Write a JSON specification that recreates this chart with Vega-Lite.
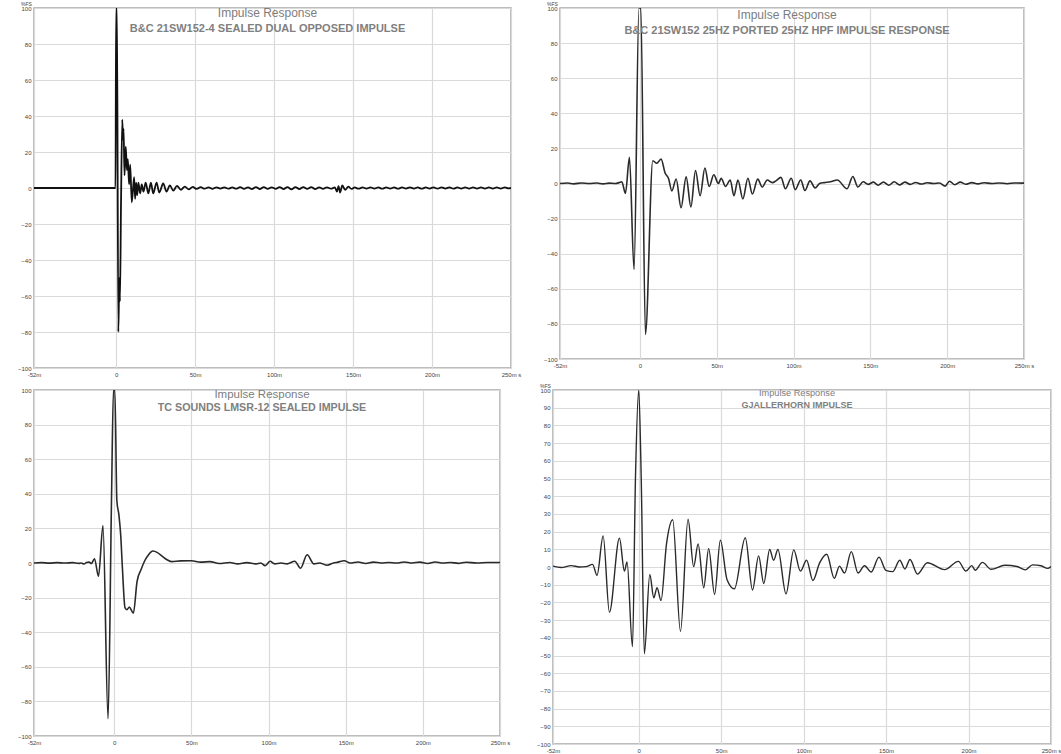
{
  "$schema": "https://vega.github.io/schema/vega-lite/v6.json",
  "padding": {"left": 0, "top": 0, "right": 0, "bottom": 0},
  "background": "white",
  "spacing": 4,
  "config": {
    "font": "Liberation Sans",
    "view": {"stroke": "#a8a8a8", "strokeWidth": 1.5},
    "axis": {"labelFontSize": 6, "labelColor": "#444", "labelFont": "Liberation Sans", "gridColor": "#dadada", "gridWidth": 1.2, "domain": false, "ticks": false, "labelPadding": 3, "labelOverlap": false},
    "axisX": {"labelFlush": false},
    "title": {"font": "Liberation Sans", "color": "#7d7d7d", "subtitleColor": "#808080", "fontWeight": "normal", "subtitleFontWeight": "bold", "subtitleFont": "Liberation Sans", "anchor": "middle", "frame": "group", "subtitlePadding": 0, "dx": -5}
  },
  "datasets": {
    "p1": [
      {"t": -52, "v": 0}, {"t": -30, "v": 0}, {"t": -10, "v": 0}, {"t": -0.4, "v": 0}, {"t": 0, "v": 100}, {"t": 0.5, "v": 100},
      {"t": 1.4, "v": -80}, {"t": 2, "v": -50}, {"t": 2.4, "v": -63}, {"t": 3.1, "v": -8}, {"t": 3.9, "v": 38}, {"t": 4.3, "v": 27},
      {"t": 4.7, "v": 33}, {"t": 5.3, "v": 7}, {"t": 6.1, "v": 23}, {"t": 6.8, "v": 10}, {"t": 7.4, "v": 16}, {"t": 8.2, "v": 2},
      {"t": 8.9, "v": 13}, {"t": 9.9, "v": -8}, {"t": 11.4, "v": 6}, {"t": 12, "v": -6}, {"t": 12.7, "v": 3}, {"t": 13.3, "v": -4},
      {"t": 14.1, "v": 3}, {"t": 15.2, "v": -3}, {"t": 16.2, "v": 2}, {"t": 17.3, "v": -2}, {"t": 18.7, "v": 3}, {"t": 20.4, "v": -3},
      {"t": 22, "v": 3}, {"t": 23.5, "v": -3}, {"t": 25.6, "v": 3}, {"t": 27.3, "v": -2.5}, {"t": 29.8, "v": 2.5}, {"t": 31.9, "v": -2},
      {"t": 34, "v": 1.5}, {"t": 36.2, "v": -1.5}, {"t": 38.5, "v": 1.2}, {"t": 41, "v": -1}, {"t": 43.5, "v": 0.8}, {"t": 46, "v": -0.8},
      {"t": 48.5, "v": 0.6}, {"t": 51, "v": -0.5}, {"t": 53.5, "v": 0.5}, {"t": 56, "v": -0.4}, {"t": 58.5, "v": 0.4}, {"t": 61, "v": -0.5},
      {"t": 63.5, "v": 0.4}, {"t": 66, "v": -0.3}, {"t": 68.5, "v": 0.4}, {"t": 71, "v": -0.4}, {"t": 73.5, "v": 0.3}, {"t": 76, "v": -0.4},
      {"t": 78.5, "v": 0.5}, {"t": 81, "v": -0.5}, {"t": 83.5, "v": 0.4}, {"t": 86, "v": -0.6}, {"t": 88.5, "v": 0.5}, {"t": 91, "v": -0.6},
      {"t": 93.5, "v": 0.5}, {"t": 96, "v": -0.5}, {"t": 98.5, "v": 0.4}, {"t": 101, "v": -0.5}, {"t": 103.5, "v": 0.5}, {"t": 106, "v": -0.6},
      {"t": 108.5, "v": 0.5}, {"t": 111, "v": -0.7}, {"t": 113.5, "v": 0.5}, {"t": 116, "v": -0.6}, {"t": 118.5, "v": 0.5}, {"t": 121, "v": -0.5},
      {"t": 123.5, "v": 0.5}, {"t": 126, "v": -0.6}, {"t": 128.5, "v": 0.4}, {"t": 131, "v": -0.5}, {"t": 133.5, "v": 0.4}, {"t": 136, "v": -0.4},
      {"t": 138.5, "v": 0.3}, {"t": 139.8, "v": -2}, {"t": 140.8, "v": 1}, {"t": 141.8, "v": -2.5}, {"t": 143.2, "v": 1.5}, {"t": 145, "v": -1},
      {"t": 147, "v": 0.8}, {"t": 149, "v": -0.5}, {"t": 151, "v": 0.3}, {"t": 153.5, "v": -0.4}, {"t": 156, "v": 0.3}, {"t": 158.5, "v": -0.3},
      {"t": 161, "v": 0.3}, {"t": 163.5, "v": -0.3}, {"t": 166, "v": 0.3}, {"t": 168.5, "v": -0.4}, {"t": 171, "v": 0.3}, {"t": 173.5, "v": -0.3},
      {"t": 176, "v": 0.3}, {"t": 178.5, "v": -0.4}, {"t": 181, "v": 0.3}, {"t": 183.5, "v": -0.3}, {"t": 186, "v": 0.4}, {"t": 188.5, "v": -0.3},
      {"t": 191, "v": 0.3}, {"t": 193.5, "v": -0.4}, {"t": 196, "v": 0.3}, {"t": 198.5, "v": -0.3}, {"t": 201, "v": 0.4}, {"t": 203.5, "v": -0.4},
      {"t": 206, "v": 0.4}, {"t": 208.5, "v": -0.3}, {"t": 211, "v": 0.4}, {"t": 213.5, "v": -0.4}, {"t": 216, "v": 0.3}, {"t": 218.5, "v": -0.3},
      {"t": 221, "v": 0.3}, {"t": 223.5, "v": -0.3}, {"t": 226, "v": 0.3}, {"t": 228.5, "v": -0.3}, {"t": 231, "v": 0.3}, {"t": 233.5, "v": -0.3},
      {"t": 236, "v": 0.3}, {"t": 238.5, "v": -0.3}, {"t": 241, "v": 0.3}, {"t": 243.5, "v": -0.3}, {"t": 246, "v": 0.3}, {"t": 248.5, "v": -0.2},
      {"t": 250, "v": 0}
    ],
    "p2": [
      {"t": -52, "v": 0}, {"t": -47, "v": 0.3}, {"t": -43, "v": -0.2}, {"t": -38, "v": 0.3}, {"t": -33, "v": 0}, {"t": -28, "v": 0.3},
      {"t": -24, "v": -0.2}, {"t": -20, "v": 0.2}, {"t": -16, "v": 0}, {"t": -13.5, "v": 0.5}, {"t": -11.8, "v": 1}, {"t": -9.4, "v": -5.6},
      {"t": -6.8, "v": 15}, {"t": -3.8, "v": -49}, {"t": -0.6, "v": 100}, {"t": 0.6, "v": 100}, {"t": 3.6, "v": -86}, {"t": 8.4, "v": 13},
      {"t": 11, "v": 11.5}, {"t": 13.8, "v": 14}, {"t": 16.4, "v": 6}, {"t": 18.6, "v": 3}, {"t": 20.8, "v": -4.2}, {"t": 23.6, "v": 2.6},
      {"t": 26.8, "v": -13.8}, {"t": 30.1, "v": 3.8}, {"t": 33.2, "v": -13.4}, {"t": 36.2, "v": 7.4}, {"t": 39.2, "v": -7}, {"t": 42.3, "v": 8.8},
      {"t": 45.1, "v": -1.7}, {"t": 48.1, "v": 5}, {"t": 51.1, "v": 0}, {"t": 52.9, "v": 3}, {"t": 55.7, "v": -1.7}, {"t": 58.8, "v": 2},
      {"t": 61.2, "v": -7}, {"t": 63.8, "v": 2}, {"t": 67, "v": -8.8}, {"t": 70.3, "v": 3}, {"t": 73.2, "v": -6}, {"t": 76.7, "v": 2.5},
      {"t": 79.6, "v": -2}, {"t": 82.9, "v": 2}, {"t": 86.2, "v": 0.5}, {"t": 88.5, "v": 1.5}, {"t": 91.8, "v": 3.5}, {"t": 94.7, "v": -3},
      {"t": 98.5, "v": 3}, {"t": 101.1, "v": -3.5}, {"t": 104.7, "v": 2}, {"t": 107.4, "v": -4}, {"t": 110.7, "v": 1.5}, {"t": 114, "v": -2.5},
      {"t": 117, "v": 0}, {"t": 120, "v": 0.5}, {"t": 124, "v": 1}, {"t": 128.5, "v": 2}, {"t": 134.8, "v": -3}, {"t": 138.6, "v": 4},
      {"t": 141.9, "v": -2}, {"t": 145.3, "v": 1}, {"t": 148.6, "v": -0.5}, {"t": 152, "v": 0.8}, {"t": 155, "v": -1}, {"t": 158.5, "v": 0.8},
      {"t": 162, "v": -1}, {"t": 165.5, "v": 1}, {"t": 169, "v": -0.8}, {"t": 172.5, "v": 0.8}, {"t": 176, "v": -0.5}, {"t": 179.5, "v": 0.6},
      {"t": 183, "v": -0.3}, {"t": 187, "v": 0.4}, {"t": 191, "v": 0}, {"t": 195, "v": 0.3}, {"t": 198.7, "v": -1.5}, {"t": 201.5, "v": 1.3},
      {"t": 205, "v": -0.7}, {"t": 208.5, "v": 0.8}, {"t": 212, "v": -0.4}, {"t": 216, "v": 0.5}, {"t": 220, "v": -0.2}, {"t": 224, "v": 0.4},
      {"t": 229, "v": 0}, {"t": 234, "v": 0.3}, {"t": 239, "v": -0.1}, {"t": 244, "v": 0.3}, {"t": 250, "v": 0.2}
    ],
    "p3": [
      {"t": -52, "v": 0}, {"t": -47, "v": 0.2}, {"t": -42, "v": -0.1}, {"t": -37, "v": 0.2}, {"t": -32, "v": 0}, {"t": -27, "v": 0.2},
      {"t": -23, "v": -0.2}, {"t": -21.5, "v": 0}, {"t": -19.6, "v": -0.6}, {"t": -18, "v": 0.3}, {"t": -16.3, "v": 0.5}, {"t": -14.8, "v": -0.3},
      {"t": -12.8, "v": 2.5}, {"t": -10.2, "v": -7.7}, {"t": -7.3, "v": 21.6}, {"t": -4, "v": -90}, {"t": -1.8, "v": 35}, {"t": -0.5, "v": 100},
      {"t": 0.4, "v": 100}, {"t": 1.7, "v": 36}, {"t": 3, "v": 28}, {"t": 4.2, "v": 16}, {"t": 5.3, "v": -3}, {"t": 7, "v": -26},
      {"t": 8.2, "v": -27}, {"t": 9.8, "v": -25.5}, {"t": 12.4, "v": -29}, {"t": 14.8, "v": -10.6}, {"t": 17.4, "v": -3.8}, {"t": 19.6, "v": 1},
      {"t": 22, "v": 4.5}, {"t": 25, "v": 6.9}, {"t": 28, "v": 6}, {"t": 31, "v": 4}, {"t": 34, "v": 2}, {"t": 37, "v": 0.8},
      {"t": 43, "v": 1.2}, {"t": 50, "v": 1.3}, {"t": 56, "v": 0.5}, {"t": 62, "v": 0.8}, {"t": 68, "v": -0.3}, {"t": 75, "v": 0.3},
      {"t": 80, "v": -0.5}, {"t": 86, "v": 0.2}, {"t": 92, "v": -0.5}, {"t": 95, "v": 0}, {"t": 97.8, "v": -1.5}, {"t": 101, "v": 1},
      {"t": 104, "v": -0.5}, {"t": 108, "v": 0}, {"t": 112, "v": -0.5}, {"t": 117, "v": 1}, {"t": 120.7, "v": -3}, {"t": 125, "v": 4.8},
      {"t": 129.4, "v": -0.5}, {"t": 133, "v": 0}, {"t": 138, "v": -1.3}, {"t": 142, "v": 0}, {"t": 145, "v": 0.5}, {"t": 149, "v": 1.3},
      {"t": 153, "v": 0}, {"t": 158, "v": 0.6}, {"t": 163, "v": -0.3}, {"t": 168, "v": 0.5}, {"t": 173, "v": 0}, {"t": 178, "v": 0.3},
      {"t": 183, "v": 0}, {"t": 188, "v": 0.6}, {"t": 193, "v": 0}, {"t": 198, "v": 0.5}, {"t": 203, "v": -0.3}, {"t": 208, "v": 0.6},
      {"t": 213, "v": 0}, {"t": 218, "v": 0.3}, {"t": 223, "v": -0.2}, {"t": 228, "v": 0.4}, {"t": 235, "v": 0}, {"t": 242, "v": 0.3},
      {"t": 250, "v": 0.3}
    ],
    "p4": [
      {"t": -52, "v": 0.5}, {"t": -47, "v": -0.3}, {"t": -41, "v": 0.8}, {"t": -36, "v": 0}, {"t": -32, "v": 0.2}, {"t": -28, "v": 1.5},
      {"t": -25.3, "v": -4.7}, {"t": -21.6, "v": 17.6}, {"t": -17.8, "v": -25.6}, {"t": -11.7, "v": 16.3}, {"t": -8.7, "v": -2.3}, {"t": -7.1, "v": 2.8},
      {"t": -3.8, "v": -45}, {"t": -2, "v": 50}, {"t": 0, "v": 100}, {"t": 1.5, "v": 50}, {"t": 3.4, "v": -49}, {"t": 6.7, "v": -4.2},
      {"t": 9.1, "v": -17.4}, {"t": 11.1, "v": -11.7}, {"t": 13.5, "v": -19}, {"t": 16.8, "v": 12.8}, {"t": 20.6, "v": 26.7}, {"t": 25.3, "v": -36.4},
      {"t": 29.9, "v": 27}, {"t": 33.3, "v": 0.2}, {"t": 36, "v": 13}, {"t": 39.4, "v": -11.7}, {"t": 42.4, "v": 10.4}, {"t": 46, "v": -15.5},
      {"t": 49.5, "v": 15.2}, {"t": 53.5, "v": -7}, {"t": 58, "v": -12.3}, {"t": 64.6, "v": 16.5}, {"t": 69, "v": -13}, {"t": 72.7, "v": 6.3},
      {"t": 75.8, "v": -9.3}, {"t": 79.4, "v": 9.9}, {"t": 81.8, "v": 3.8}, {"t": 84.4, "v": 9.9}, {"t": 89.3, "v": -15.2}, {"t": 94, "v": 9.7},
      {"t": 98, "v": -2.3}, {"t": 101.8, "v": 3.8}, {"t": 105.6, "v": -7.6}, {"t": 109.7, "v": 2.3}, {"t": 114, "v": 7.2}, {"t": 118.6, "v": -6.4},
      {"t": 121.7, "v": 0.5}, {"t": 124.8, "v": -3.4}, {"t": 128.9, "v": 8.7}, {"t": 133, "v": -3.4}, {"t": 136.9, "v": 0.7}, {"t": 141, "v": -2.8},
      {"t": 145.7, "v": 5.6}, {"t": 149.9, "v": -1.9}, {"t": 154, "v": -2.6}, {"t": 158.3, "v": 3.8}, {"t": 161.4, "v": -1.1}, {"t": 164.5, "v": 4.2},
      {"t": 169, "v": -4}, {"t": 175, "v": 2.4}, {"t": 185.5, "v": -1.5}, {"t": 193.8, "v": 3.2}, {"t": 198.4, "v": -2.3}, {"t": 202, "v": 0.8},
      {"t": 204, "v": -1.8}, {"t": 208.4, "v": 2.6}, {"t": 213.7, "v": -1.3}, {"t": 222, "v": 1}, {"t": 229.4, "v": 0.3}, {"t": 234.5, "v": -1.6},
      {"t": 238.8, "v": 1.2}, {"t": 244, "v": 0.7}, {"t": 248, "v": -0.8}, {"t": 250, "v": 0.3}
    ]
  },
  "vconcat": [
    {
      "spacing": 8,
      "hconcat": [
        {
          "width": 477, "height": 360,
          "title": {"text": "Impulse Response", "subtitle": "B&C 21SW152-4 SEALED DUAL OPPOSED IMPULSE", "fontSize": 12, "subtitleFontSize": 11, "offset": -34},
          "layer": [
            {
              "data": {"name": "p1"},
              "mark": {"type": "line", "interpolate": "monotone", "color": "#111111", "strokeWidth": 1.8, "clip": true},
              "encoding": {
                "x": {"field": "t", "type": "quantitative", "scale": {"domain": [-52, 250], "nice": false, "zero": false},
                      "axis": {"title": null, "values": [-52, 0, 50, 100, 150, 200, 250], "labelExpr": "datum.value == 0 ? '0' : datum.value == 250 ? '250m s' : datum.value + 'm'"}},
                "y": {"field": "v", "type": "quantitative", "scale": {"domain": [-100, 100], "nice": false},
                      "axis": {"values": [-100, -80, -60, -40, -20, 0, 20, 40, 60, 80, 100], "title": "%FS", "titleAngle": 0, "titleFontSize": 5, "titleFontWeight": "normal", "titleColor": "#444", "titleX": -8, "titleY": -2, "titleAlign": "center", "titleBaseline": "bottom", "minExtent": 33, "maxExtent": 33}}
              }
            },
            {"mark": {"type": "rule", "color": "#e04040", "strokeDash": [2, 2], "strokeWidth": 1},
             "encoding": {"x": {"datum": 0, "type": "quantitative", "axis": {"title": null, "values": [-52, 0, 50, 100, 150, 200, 250], "labelExpr": "datum.value == 0 ? '0' : datum.value == 250 ? '250m s' : datum.value + 'm'"}}}},
            {"mark": {"type": "rule", "color": "#5b5bc8", "strokeWidth": 2},
             "encoding": {"y": {"datum": 100, "type": "quantitative", "axis": {"values": [-100, -80, -60, -40, -20, 0, 20, 40, 60, 80, 100], "title": "%FS", "titleAngle": 0, "titleFontSize": 5, "titleFontWeight": "normal", "titleColor": "#444", "titleX": -8, "titleY": -2, "titleAlign": "center", "titleBaseline": "bottom", "minExtent": 33, "maxExtent": 33}}}}
          ]
        },
        {
          "width": 464, "height": 351,
          "title": {"text": "Impulse Response", "subtitle": "B&C 21SW152 25HZ PORTED 25HZ HPF IMPULSE RESPONSE", "fontSize": 12, "subtitleFontSize": 11, "offset": -36},
          "layer": [
            {
              "data": {"name": "p2"},
              "mark": {"type": "line", "interpolate": "monotone", "color": "#2a2a2a", "strokeWidth": 1.6, "clip": true},
              "encoding": {
                "x": {"field": "t", "type": "quantitative", "scale": {"domain": [-52, 250], "nice": false, "zero": false},
                      "axis": {"title": null, "values": [-52, 0, 50, 100, 150, 200, 250], "labelExpr": "datum.value == 0 ? '0' : datum.value == 250 ? '250m s' : datum.value + 'm'"}},
                "y": {"field": "v", "type": "quantitative", "scale": {"domain": [-100, 100], "nice": false},
                      "axis": {"values": [-100, -80, -60, -40, -20, 0, 20, 40, 60, 80, 100], "title": "%FS", "titleAngle": 0, "titleFontSize": 5, "titleFontWeight": "normal", "titleColor": "#444", "titleX": -8, "titleY": -2, "titleAlign": "center", "titleBaseline": "bottom", "minExtent": 29, "maxExtent": 29}}
              }
            },
            {"mark": {"type": "rule", "color": "#e04040", "strokeDash": [2, 2], "strokeWidth": 1},
             "encoding": {"x": {"datum": 0, "type": "quantitative", "axis": {"title": null, "values": [-52, 0, 50, 100, 150, 200, 250], "labelExpr": "datum.value == 0 ? '0' : datum.value == 250 ? '250m s' : datum.value + 'm'"}}}},
            {"mark": {"type": "rule", "color": "#5b5bc8", "strokeWidth": 2},
             "encoding": {"y": {"datum": 100, "type": "quantitative", "axis": {"values": [-100, -80, -60, -40, -20, 0, 20, 40, 60, 80, 100], "title": "%FS", "titleAngle": 0, "titleFontSize": 5, "titleFontWeight": "normal", "titleColor": "#444", "titleX": -8, "titleY": -2, "titleAlign": "center", "titleBaseline": "bottom", "minExtent": 29, "maxExtent": 29}}}}
          ]
        }
      ]
    },
    {
      "spacing": 11,
      "hconcat": [
        {
          "width": 466, "height": 346,
          "title": {"text": "Impulse Response", "subtitle": "TC SOUNDS LMSR-12 SEALED IMPULSE", "fontSize": 11.5, "subtitleFontSize": 10.7, "offset": -26},
          "layer": [
            {
              "data": {"name": "p3"},
              "mark": {"type": "line", "interpolate": "monotone", "color": "#2a2a2a", "strokeWidth": 1.6, "clip": true},
              "encoding": {
                "x": {"field": "t", "type": "quantitative", "scale": {"domain": [-52, 250], "nice": false, "zero": false},
                      "axis": {"title": null, "values": [-52, 0, 50, 100, 150, 200, 250], "labelExpr": "datum.value == 0 ? '0' : datum.value == 250 ? '250m s' : datum.value + 'm'"}},
                "y": {"field": "v", "type": "quantitative", "scale": {"domain": [-100, 100], "nice": false},
                      "axis": {"values": [-100, -80, -60, -40, -20, 0, 20, 40, 60, 80, 100], "title": null, "minExtent": 33, "maxExtent": 33}}
              }
            },
            {"mark": {"type": "rule", "color": "#e04040", "strokeDash": [2, 2], "strokeWidth": 1},
             "encoding": {"x": {"datum": 0, "type": "quantitative", "axis": {"title": null, "values": [-52, 0, 50, 100, 150, 200, 250], "labelExpr": "datum.value == 0 ? '0' : datum.value == 250 ? '250m s' : datum.value + 'm'"}}}},
            {"mark": {"type": "rule", "color": "#34345e", "strokeWidth": 2},
             "encoding": {"y": {"datum": 100, "type": "quantitative", "axis": {"values": [-100, -80, -60, -40, -20, 0, 20, 40, 60, 80, 100], "title": null, "minExtent": 33, "maxExtent": 33}}}}
          ]
        },
        {
          "width": 498, "height": 354,
          "title": {"text": "Impulse Response", "subtitle": "GJALLERHORN IMPULSE", "fontSize": 9.2, "subtitleFontSize": 9, "offset": -27},
          "layer": [
            {
              "data": {"name": "p4"},
              "mark": {"type": "line", "interpolate": "monotone", "color": "#2a2a2a", "strokeWidth": 1.4, "clip": true},
              "encoding": {
                "x": {"field": "t", "type": "quantitative", "scale": {"domain": [-52, 250], "nice": false, "zero": false},
                      "axis": {"title": null, "values": [-52, 0, 50, 100, 150, 200, 250], "labelExpr": "datum.value == 0 ? '0' : datum.value == 250 ? '250m s' : datum.value + 'm'"}},
                "y": {"field": "v", "type": "quantitative", "scale": {"domain": [-100, 100], "nice": false},
                      "axis": {"values": [-100, -90, -80, -70, -60, -50, -40, -30, -20, -10, 0, 10, 20, 30, 40, 50, 60, 70, 80, 90, 100], "title": "%FS", "titleAngle": 0, "titleFontSize": 5, "titleFontWeight": "normal", "titleColor": "#444", "titleX": -8, "titleY": -2, "titleAlign": "center", "titleBaseline": "bottom", "minExtent": 30, "maxExtent": 30}}
              }
            }
          ]
        }
      ]
    }
  ]
}
